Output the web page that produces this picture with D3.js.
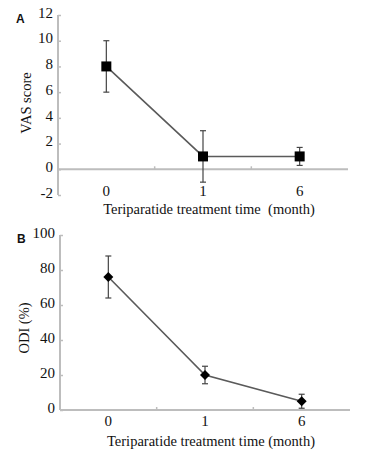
<!DOCTYPE html>
<html>
<head>
<meta charset="utf-8">
<script src="https://cdn.jsdelivr.net/npm/d3@7"></script>
<style>
body{margin:0;background:#fff;}
svg{display:block;}
svg text{font-family:'Liberation Serif','DejaVu Serif',serif;}
svg text.letter{font-family:'Liberation Sans',Arial,sans-serif;font-weight:bold;}
</style>
</head>
<body>
<svg id="chart" width="365" height="454"></svg>
<script>
const categories = ["0", "1", "6"];
const vasMean = [8, 1, 1];
const vasErr = [2, 2, 0.7];
const vasTicks = [-2, 0, 2, 4, 6, 8, 10, 12];
const odiMean = [76, 20, 5];
const odiErr = [12, 5, 4];
const odiTicks = [0, 20, 40, 60, 80, 100];

const svg = d3.select("#chart");
const axisColor = "#bdbdbd";

function panel(opts) {
  const g = svg.append("g");
  const x = d3.scaleBand().domain(categories).range([opts.x0, opts.x1]);
  const y = d3.scaleLinear().domain(opts.domain).range([opts.yBottom, opts.yTop]);

  const yAxis = g.append("g").attr("transform", `translate(${opts.x0},0)`)
    .call(d3.axisLeft(y).tickValues(opts.ticks).tickFormat(d => String(d)).tickSize(-3).tickPadding(5));
  yAxis.attr("font-family", null).attr("font-size", null);
  yAxis.select(".domain").attr("stroke", axisColor).attr("stroke-width", 2)
    .attr("d", `M0,${opts.yBottom}V${opts.yTop}`);
  yAxis.selectAll(".tick line").attr("stroke", axisColor).attr("stroke-width", 1.5);
  yAxis.selectAll(".tick text").style("font-size", "15px")
    .attr("fill", "#111").attr("dy", "0.15em");

  const y0 = y(0);
  g.append("line").attr("x1", opts.x0).attr("x2", opts.x1)
    .attr("y1", y0).attr("y2", y0).attr("stroke", axisColor).attr("stroke-width", 2);
  const bounds = categories.slice(1).map(c => x(c));
  g.selectAll(".bt").data(bounds).enter().append("line")
    .attr("x1", d => d).attr("x2", d => d)
    .attr("y1", y0).attr("y2", y0 - 3)
    .attr("stroke", axisColor).attr("stroke-width", 1.5);

  g.selectAll(".xl").data(categories).enter().append("text")
    .attr("x", d => x(d) + x.bandwidth() / 2)
    .attr("y", opts.xLabelY)
    .attr("text-anchor", "middle").attr("dominant-baseline", "middle")
    .style("font-size", "15px").attr("fill", "#111")
    .text(d => d);

  g.append("text").attr("x", (opts.x0 + opts.x1) / 2 + 6).attr("y", opts.titleY)
    .attr("text-anchor", "middle").attr("dominant-baseline", "middle")
    .style("font-size", "14.5px").style("white-space", "pre").attr("xml:space", "preserve")
    .attr("fill", "#111")
    .text(opts.xTitle);

  g.append("text")
    .attr("transform", `translate(${opts.yTitleX},${opts.yTitleY}) rotate(-90)`)
    .attr("text-anchor", "middle").attr("dominant-baseline", "middle")
    .style("font-size", "14.5px").attr("fill", "#111")
    .text(opts.yTitle);

  g.append("text").attr("class", "letter").attr("x", opts.letterX).attr("y", opts.letterY)
    .attr("dominant-baseline", "middle")
    .style("font-size", "12px").attr("fill", "#111").text(opts.letter);

  const cx = d => x(d) + x.bandwidth() / 2;
  const pts = categories.map((c, i) => ({c, m: opts.mean[i], e: opts.err[i]}));

  g.append("path").datum(pts)
    .attr("d", d3.line().x(d => cx(d.c)).y(d => y(d.m)))
    .attr("fill", "none").attr("stroke", "#5a5a5a").attr("stroke-width", 1.6);

  const eb = g.selectAll(".eb").data(pts).enter().append("g");
  eb.append("line").attr("x1", d => cx(d.c)).attr("x2", d => cx(d.c))
    .attr("y1", d => y(d.m - d.e)).attr("y2", d => y(d.m + d.e))
    .attr("stroke", "#444").attr("stroke-width", 1.2);
  [-1, 1].forEach(s => {
    eb.append("line").attr("x1", d => cx(d.c) - 3).attr("x2", d => cx(d.c) + 3)
      .attr("y1", d => y(d.m + s * d.e)).attr("y2", d => y(d.m + s * d.e))
      .attr("stroke", "#444").attr("stroke-width", 1.2);
  });

  g.selectAll(".mk").data(pts).enter().append("path")
    .attr("transform", d => `translate(${cx(d.c)},${y(d.m)})` + (opts.symbol === "diamond" ? " rotate(45)" : ""))
    .attr("d", d3.symbol().type(d3.symbolSquare).size(opts.symbolSize))
    .attr("fill", "#000");
}

panel({
  x0: 58, x1: 348, domain: [-2, 12], yBottom: 195, yTop: 15,
  ticks: vasTicks, mean: vasMean, err: vasErr,
  xLabelY: 193, titleY: 211, xTitle: "Teriparatide treatment time  (month)",
  yTitle: "VAS score", yTitleX: 28, yTitleY: 103,
  letter: "A", letterX: 16, letterY: 20, symbol: "square", symbolSize: 100
});

panel({
  x0: 60, x1: 350, domain: [0, 100], yBottom: 410, yTop: 235,
  ticks: odiTicks, mean: odiMean, err: odiErr,
  xLabelY: 423, titleY: 443, xTitle: "Teriparatide treatment time (month)",
  yTitle: "ODI (%)", yTitleX: 26, yTitleY: 328,
  letter: "B", letterX: 17, letterY: 240, symbol: "diamond", symbolSize: 50
});
</script>
</body>
</html>
